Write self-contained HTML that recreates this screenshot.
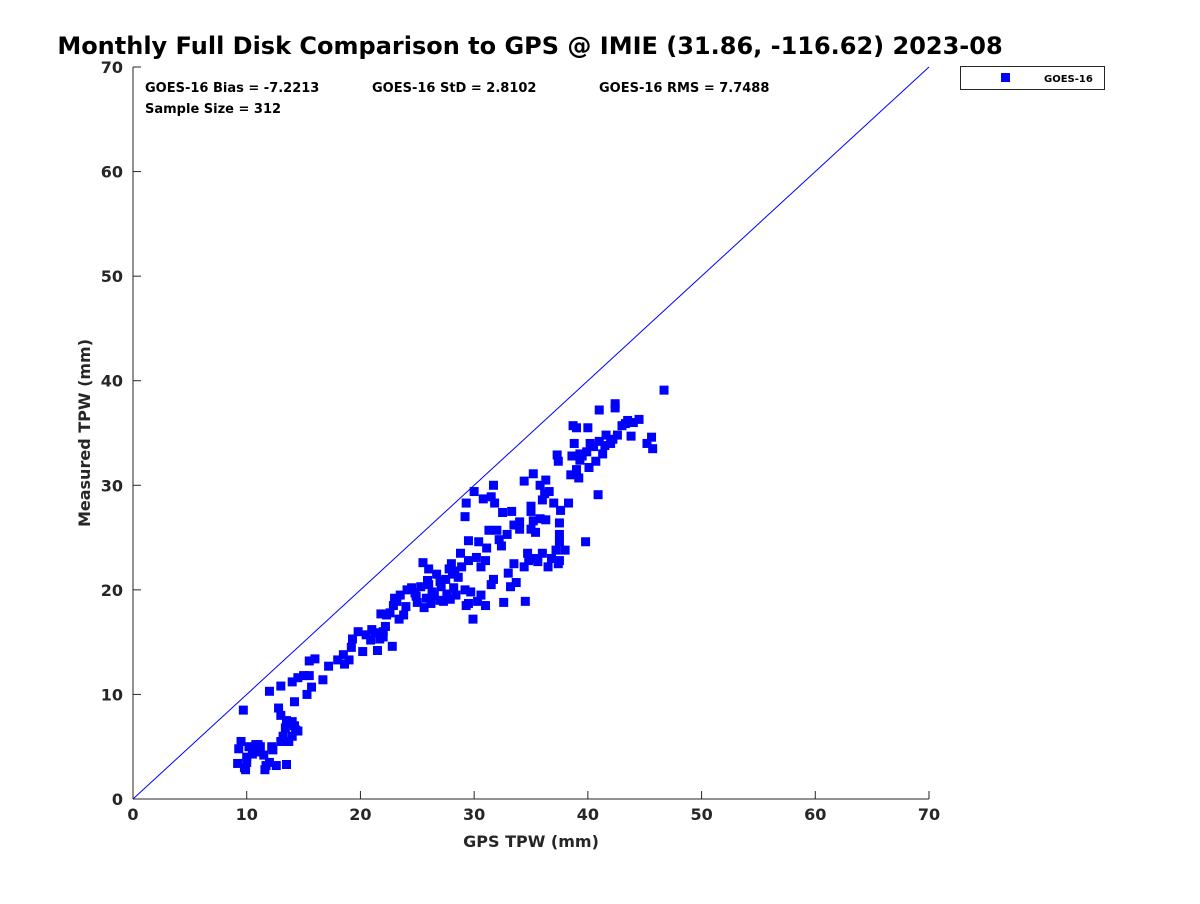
<!DOCTYPE html>
<html><head><meta charset="utf-8"><style>
body{margin:0;background:#fff;font-family:"DejaVu Sans","Liberation Sans",sans-serif}
</style></head><body>
<svg width="1200" height="900" xmlns="http://www.w3.org/2000/svg" style="font-family:'DejaVu Sans','Liberation Sans',sans-serif">
<rect width="1200" height="900" fill="#fff"/>
<text x="530" y="54" text-anchor="middle" font-size="24" font-weight="bold" fill="#000">Monthly Full Disk Comparison to GPS @ IMIE (31.86, -116.62) 2023-08</text>
<g id="axes"></g>
<g id="pts"></g>
<text x="531" y="847" text-anchor="middle" font-size="16" font-weight="bold" fill="#262626">GPS TPW (mm)</text>
<text transform="translate(90,433) rotate(-90)" text-anchor="middle" font-size="16" font-weight="bold" fill="#262626">Measured TPW (mm)</text>
<text x="145" y="92" font-size="13" font-weight="bold">GOES-16 Bias = -7.2213</text>
<text x="372" y="92" font-size="13" font-weight="bold">GOES-16 StD = 2.8102</text>
<text x="599" y="92" font-size="13" font-weight="bold">GOES-16 RMS = 7.7488</text>
<text x="145" y="113" font-size="13" font-weight="bold">Sample Size = 312</text>
<g>
<rect x="960.5" y="66.5" width="144" height="23" fill="#fff" stroke="#262626"/>
<rect x="1001" y="73" width="9" height="9" fill="#0000ff"/>
<text x="1044" y="82" font-size="10" font-weight="bold">GOES-16</text>
</g>
</svg>
<script>
const xTicks=[0,10,20,30,40,50,60,70];
const yTicks=[0,10,20,30,40,50,60,70];
const gpsX=[9.7,9.5,9.3,9.2,9.8,10,10.2,10.5,10.8,11,11.2,11.5,11.7,11.6,12,12.2,12.6,12.3,9.9,10,11,13.5,13,13.2,13.4,13.6,13,12.8,13.5,14,14.3,14,14.5,14.2,13.7,14.2,12,13,14,14.5,15,15.3,15.5,15.7,15.5,16,16.7,17.2,18,18.5,18.6,19,19.2,19.3,19.8,20.2,20.5,21,21.3,21.5,21.7,22,22,22.2,21.8,22.3,22.6,22.9,23,23.4,23.8,22.8,23.5,24.1,24,24.5,24.8,25,25.3,25.5,25.6,25.8,26,26.2,26,26.5,26.7,27,27,27.3,27.5,27.6,27.8,28,28.1,28.2,28.4,28.6,28.8,28.9,29.2,29.3,29.5,29.2,29.3,29.7,29.5,29.5,29.9,30,30.2,30.3,30.4,30.6,30.6,30.8,31,31,31.1,31.3,31.5,31.5,31.7,31.7,31.8,32,32.2,32.4,32.5,32.6,32.9,33,33.2,33.3,33.5,33.5,33.7,34,34,34.4,34.4,34.5,34.7,34.8,35,35,35,35.2,35.2,35.3,35.4,35.6,35.8,35.8,36,36,36.2,36.3,36.3,36.5,36.6,36.8,37,37.2,37.3,37.4,37.5,37.5,37.5,37.4,37.5,37.6,38,38.3,38.5,38.6,38.8,38.7,39,39,39.2,39.3,39.3,39.5,39.8,39.9,40,40.1,40.2,40.5,40.7,40.9,41,41,41.3,41.5,41.6,42,42.2,42.4,42.4,42.6,43,43.3,43.5,43.8,44,44.5,45.2,45.6,45.7,46.7,26.3,27.1,24.9,25.9,28.3,23.2,20.9,27.9];
const measY=[8.5,5.5,4.8,3.4,3.0,4,5,4.3,5.2,4.5,5,4.2,3.2,2.8,3.5,5,3.2,4.7,2.8,3.5,5.2,3.3,5.5,6,6.8,7.2,8,8.7,7.5,7.4,6.6,6,6.5,7,5.5,9.3,10.3,10.8,11.2,11.6,11.8,10,11.8,10.7,13.2,13.4,11.4,12.7,13.3,13.8,12.9,13.3,14.5,15.3,16,14.1,15.7,16.2,15.9,14.2,15.3,16,15.5,16.5,17.7,17.6,17.8,18.5,19.2,17.2,17.6,14.6,19.5,20,18.4,20.2,19.7,18.8,20.3,22.6,18.3,19.2,20.5,18.7,22,19.5,21.5,19,20.8,18.9,21,19.6,22,22.5,21.5,20.2,19.5,21.2,23.5,22.2,20,18.5,18.7,27,28.3,19.8,22.8,24.7,17.2,29.4,23.1,18.9,24.6,19.5,22.2,28.7,18.5,22.8,24,25.7,28.9,20.5,21,30,28.3,25.7,24.8,24.2,27.4,18.8,25.3,21.6,20.3,27.5,26.2,22.5,20.7,25.8,26.5,22.2,30.4,18.9,23.5,22.8,25.8,27.5,28,26.6,31.1,23,25.5,22.7,26.8,30,28.6,23.5,29.2,30.5,26.7,22.2,29.4,23,28.3,23.8,32.9,32.3,24.6,26.4,25.3,22.5,22.8,27.6,23.8,28.3,31,32.8,34,35.7,35.5,31.5,30.7,33,32.4,32.8,24.6,33.2,35.5,31.7,34,33.7,32.3,29.1,37.2,34.2,33,33.8,34.8,34,34.4,37.4,37.8,34.8,35.7,35.9,36.2,34.7,36,36.3,34,34.6,33.5,39.1,19.8,20.3,19.4,20.9,21.8,18.9,15.2,19.1];
const X0=133,X1=929,Y0=799,Y1=67;
const sx=v=>X0+(v-0)/(70-0)*(X1-X0);
const sy=v=>Y0-(v-0)/(70-0)*(Y0-Y1);
const NS="http://www.w3.org/2000/svg";
const ax=document.getElementById('axes');
function mk(t,a,p){const e=document.createElementNS(NS,t);for(const k in a)e.setAttribute(k,a[k]);p.appendChild(e);return e;}
let l=mk('line',{x1:X0,y1:Y0,x2:X1,y2:Y0,stroke:'#262626','stroke-width':1},ax);


l=mk('line',{x1:X0,y1:Y0,x2:X0,y2:Y1,stroke:'#262626','stroke-width':1},ax);


xTicks.forEach(v=>{
 mk('line',{x1:sx(v),y1:Y0,x2:sx(v),y2:Y0-8,stroke:'#262626'},ax);
 const t=mk('text',{x:sx(v),y:Y0+21,'text-anchor':'middle','font-size':16,'font-weight':'bold',fill:'#262626'},ax);
 t.textContent=v;
 
 
});
yTicks.forEach(v=>{
 mk('line',{x1:X0,y1:sy(v),x2:X0+8,y2:sy(v),stroke:'#262626'},ax);
 const t=mk('text',{x:X0-10,y:sy(v)+6,'text-anchor':'end','font-size':16,'font-weight':'bold',fill:'#262626'},ax);
 t.textContent=v;
 
 
});
const ref=mk('line',{x1:sx(0),y1:sy(0),x2:sx(70),y2:sy(70),stroke:'#0000ff','stroke-width':1},ax);


const pg=document.getElementById('pts');
gpsX.forEach((x,i)=>{
 const r=mk('rect',{x:sx(x)-4.5,y:sy(measY[i])-4.5,width:9,height:9,fill:'#0000ff'},pg);
 
 
});
</script>
</body></html>
